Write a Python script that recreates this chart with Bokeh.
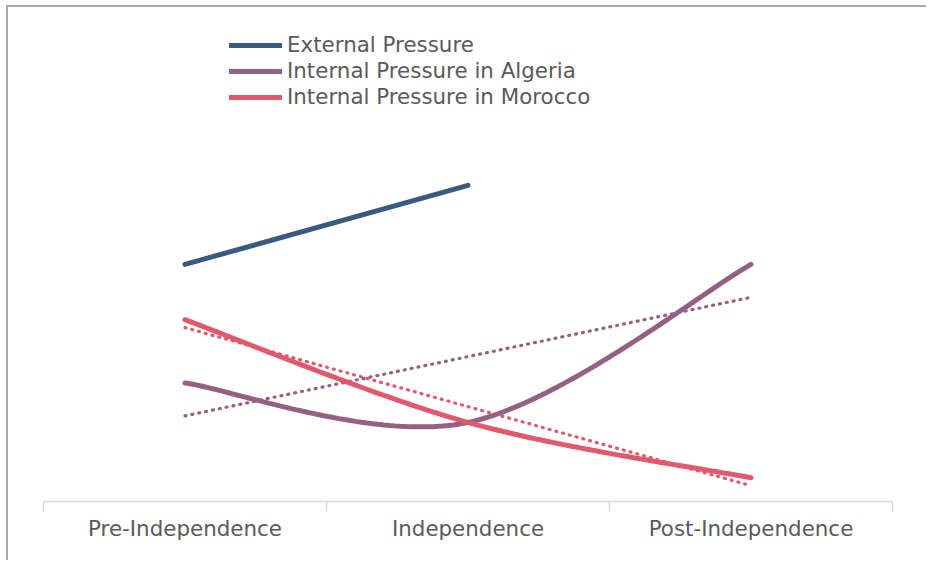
import numpy as np
from bokeh.plotting import figure
from bokeh.models import Range1d, FixedTicker, LinearAxis, Legend, LegendItem
from bokeh.embed import file_html
from bokeh.resources import INLINE

# ---- data ----
categories = ["Pre-Independence", "Independence", "Post-Independence"]
external_pressure = [3.0, 4.0]          # only Pre-Independence and Independence
algeria_pressure = [1.5, 1.0, 3.0]
morocco_pressure = [2.3, 1.0, 0.3]

series_names = ["External Pressure", "Internal Pressure in Algeria", "Internal Pressure in Morocco"]
series_colors = ["#3a5b7e", "#946184", "#e0596d"]

x_pos = [i + 0.5 for i in range(len(categories))]


def smooth(xs, ys, n=60):
    """Excel-style smoothed line (cubic Bezier through the points)."""
    pts = np.column_stack([xs, ys]).astype(float)
    m = len(pts)
    out = [pts[0]]
    for i in range(m - 1):
        p0 = pts[max(i - 1, 0)]
        p1 = pts[i]
        p2 = pts[i + 1]
        p3 = pts[min(i + 2, m - 1)]
        c1 = p1 + (p2 - p0) / 6.0
        c2 = p2 - (p3 - p1) / 6.0
        t = np.linspace(0, 1, n)[1:, None]
        seg = (1 - t) ** 3 * p1 + 3 * (1 - t) ** 2 * t * c1 + 3 * (1 - t) * t ** 2 * c2 + t ** 3 * p2
        out.extend(seg)
    out = np.array(out)
    return out[:, 0], out[:, 1]


def trend(xs, ys):
    k, b = np.polyfit(xs, ys, 1)
    return [xs[0], xs[-1]], [k * xs[0] + b, k * xs[-1] + b]


FONT = "DejaVu Sans"
FONT_SIZE = "21.4px"

p = figure(width=920, height=555,
           x_range=Range1d(0, 3), y_range=Range1d(0, 6.25),
           x_axis_type=None, y_axis_type=None,
           output_backend="svg", toolbar_location=None,
           min_border_left=35, min_border_right=36,
           min_border_top=0, min_border_bottom=61)
p.outline_line_color = None
p.background_fill_color = "white"
p.border_fill_color = "white"
p.styles = {"margin-left": "6px", "margin-top": "5px",
            "border-left": "2px solid #a9a9a9", "border-top": "2px solid #a9a9a9"}

xaxis = LinearAxis(
    ticker=FixedTicker(ticks=x_pos, minor_ticks=[0, 1, 2, 3]),
    major_label_overrides={x: c for x, c in zip(x_pos, categories)},
)
xaxis.axis_line_color = "#d9d9d9"
xaxis.axis_line_width = 1.5
xaxis.major_tick_line_color = None
xaxis.major_tick_out = 0
xaxis.major_tick_in = 0
xaxis.minor_tick_line_color = "#d9d9d9"
xaxis.minor_tick_line_width = 1.5
xaxis.minor_tick_out = 10
xaxis.minor_tick_in = 0
xaxis.major_label_text_font = FONT
xaxis.major_label_text_font_size = FONT_SIZE
xaxis.major_label_text_color = "#5a5a5a"
xaxis.major_label_standoff = 4
p.add_layout(xaxis, "below")

# trend lines (dotted)
tx, ty = trend(x_pos, algeria_pressure)
p.line(tx, ty, line_color=series_colors[1], line_width=3.2, line_dash="1 6", line_cap="round")
tx, ty = trend(x_pos, morocco_pressure)
p.line(tx, ty, line_color=series_colors[2], line_width=3.2, line_dash="1 6", line_cap="round")

# main series
r_ext = p.line(x_pos[:len(external_pressure)], external_pressure,
               line_color=series_colors[0], line_width=5, line_cap="round")
sx, sy = smooth(x_pos, algeria_pressure)
r_alg = p.line(sx, sy, line_color=series_colors[1], line_width=5, line_cap="round")
sx, sy = smooth(x_pos, morocco_pressure)
r_mor = p.line(sx, sy, line_color=series_colors[2], line_width=5, line_cap="round")

legend = Legend(items=[LegendItem(label=n, renderers=[r]) for n, r in
                       zip(series_names, [r_ext, r_alg, r_mor])],
                location=(186, 392))
legend.label_text_font = FONT
legend.label_text_font_size = FONT_SIZE
legend.label_text_color = "#5a5a5a"
legend.glyph_width = 53
legend.glyph_height = 20
legend.label_standoff = 5
legend.spacing = 1
legend.padding = 0
legend.margin = 0
legend.border_line_color = None
legend.background_fill_alpha = 0
p.add_layout(legend, "center")

open("out.html", "w").write(file_html(p, INLINE))
